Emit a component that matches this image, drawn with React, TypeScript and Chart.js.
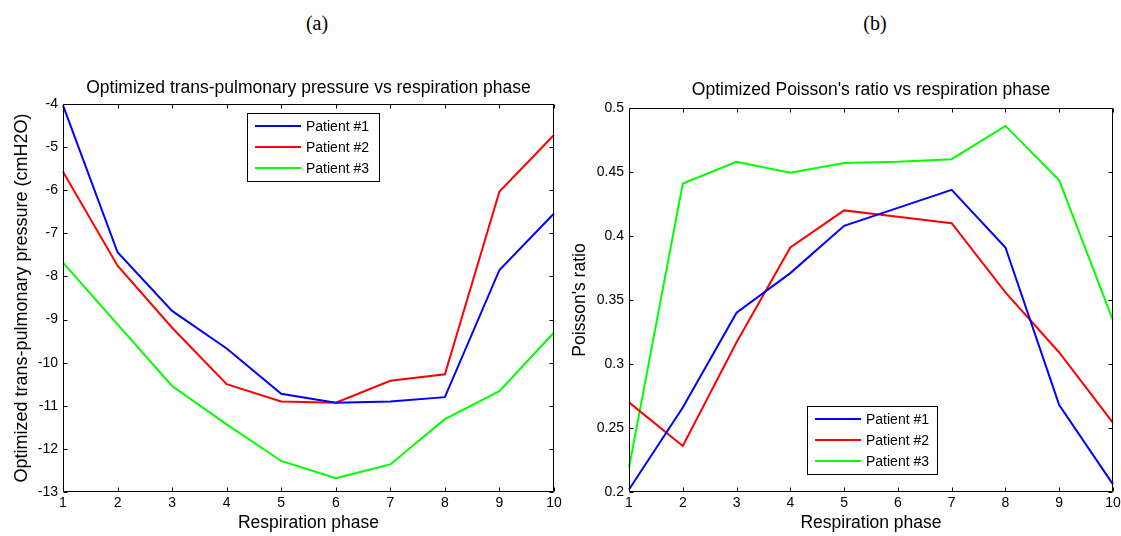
import React, { useEffect, useRef } from "react";
import { Chart, registerables } from "chart.js";

Chart.register(...registerables);

// ---------- data ----------
const phases = ["1", "2", "3", "4", "5", "6", "7", "8", "9", "10"];
const patientLabels = ["Patient #1", "Patient #2", "Patient #3"];

const pressureP1 = [-4.03, -7.44, -8.8, -9.67, -10.72, -10.93, -10.9, -10.8, -7.85, -6.54];
const pressureP2 = [-5.57, -7.75, -9.19, -10.5, -10.9, -10.93, -10.42, -10.27, -6.03, -4.72];
const pressureP3 = [-7.68, -9.11, -10.54, -11.43, -12.28, -12.68, -12.36, -11.31, -10.66, -9.3];

const poissonP1 = [0.202, 0.266, 0.34, 0.371, 0.408, 0.422, 0.436, 0.391, 0.268, 0.206];
const poissonP2 = [0.27, 0.236, 0.317, 0.391, 0.42, 0.415, 0.41, 0.356, 0.309, 0.254];
const poissonP3 = [0.219, 0.441, 0.458, 0.4495, 0.457, 0.458, 0.46, 0.486, 0.4435, 0.334];

const pressureTicks = [-13, -12, -11, -10, -9, -8, -7, -6, -5, -4];
const pressureTickLabels = ["-13", "-12", "-11", "-10", "-9", "-8", "-7", "-6", "-5", "-4"];
const poissonTicks = [0.2, 0.25, 0.3, 0.35, 0.4, 0.45, 0.5];
const poissonTickLabels = ["0.2", "0.25", "0.3", "0.35", "0.4", "0.45", "0.5"];

const seriesColors = ["#0000ff", "#ff0000", "#00ff00"];

const FONT = "'Liberation Sans', Arial, Helvetica, sans-serif";

// ---------- plugins ----------
const matlabBoxPlugin = {
  id: "matlabBox",
  afterDatasetsDraw(chart: any) {
    const { ctx, chartArea: a, scales } = chart;
    const L = Math.round(a.left) + 0.5;
    const R = Math.round(a.right) - 0.5;
    const T = Math.round(a.top) + 0.5;
    const B = Math.round(a.bottom) - 0.5;
    const tl = 4;
    ctx.save();
    ctx.strokeStyle = "#000";
    ctx.lineWidth = 1;
    ctx.beginPath();
    ctx.rect(L, T, R - L, B - T);
    const xs = scales.x;
    xs.ticks.forEach((_t: any, i: number) => {
      const px = Math.round(xs.getPixelForTick(i)) + 0.5;
      ctx.moveTo(px, B);
      ctx.lineTo(px, B - tl);
      ctx.moveTo(px, T);
      ctx.lineTo(px, T + tl);
    });
    const ys = scales.y;
    ys.ticks.forEach((_t: any, i: number) => {
      const py = Math.round(ys.getPixelForTick(i)) + 0.5;
      ctx.moveTo(L, py);
      ctx.lineTo(L + tl, py);
      ctx.moveTo(R, py);
      ctx.lineTo(R - tl, py);
    });
    ctx.stroke();
    ctx.restore();
  },
};

const matlabLegendPlugin = {
  id: "matlabLegend",
  afterDraw(chart: any, _args: any, opts: any) {
    if (!opts || opts.x === undefined) return;
    const { ctx } = chart;
    const { x, y, w, h } = opts;
    ctx.save();
    ctx.fillStyle = "#fff";
    ctx.fillRect(x, y, w, h);
    ctx.strokeStyle = "#000";
    ctx.lineWidth = 1;
    ctx.strokeRect(x + 0.5, y + 0.5, w, h);
    ctx.font = `14px ${FONT}`;
    ctx.textBaseline = "middle";
    ctx.textAlign = "left";
    chart.data.datasets.forEach((ds: any, i: number) => {
      const ry = y + 13 + i * 21;
      ctx.strokeStyle = ds.borderColor;
      ctx.lineWidth = 2;
      ctx.beginPath();
      ctx.moveTo(x + 8, ry);
      ctx.lineTo(x + 54, ry);
      ctx.stroke();
      ctx.fillStyle = "#000";
      ctx.fillText(ds.label, x + 59, ry + 1);
    });
    ctx.restore();
  },
};

// ---------- chart builder ----------
function makeConfig(p: {
  title: string;
  yTitle: string;
  yTitleSize: number;
  series: number[][];
  yTicks: number[];
  yTickLabels: string[];
  yAxisWidth: number;
  padRight: number;
  titlePadTop: number;
  titlePadBottom: number;
  yTitlePad: number;
  legend: { x: number; y: number; w: number; h: number };
}) {
  const datasets = p.series.map((s, i) => ({
    label: patientLabels[i],
    data: s,
    borderColor: seriesColors[i],
    backgroundColor: seriesColors[i],
    borderWidth: 2,
    pointRadius: 0,
    pointHoverRadius: 0,
    tension: 0,
    fill: false,
  }));
  const yMin = p.yTicks[0];
  const yMax = p.yTicks[p.yTicks.length - 1];
  return {
    type: "line",
    data: { labels: phases, datasets },
    plugins: [matlabBoxPlugin, matlabLegendPlugin],
    options: {
      animation: false,
      responsive: false,
      maintainAspectRatio: false,
      events: [],
      layout: { padding: { left: 0, right: p.padRight, top: 0, bottom: 0 } },
      plugins: {
        legend: { display: false },
        tooltip: { enabled: false },
        title: {
          display: true,
          text: p.title,
          fullSize: false,
          color: "#000",
          font: { size: 17.5, weight: "normal", family: FONT },
          padding: { top: p.titlePadTop, bottom: p.titlePadBottom },
        },
        matlabLegend: p.legend,
      },
      scales: {
        x: {
          type: "category",
          offset: false,
          grid: { display: false, drawTicks: false },
          border: { display: false },
          ticks: {
            color: "#000",
            font: { size: 14, family: FONT },
            padding: 3,
            maxRotation: 0,
            minRotation: 0,
            autoSkip: false,
          },
          title: {
            display: true,
            text: "Respiration phase",
            color: "#000",
            font: { size: 17.5, family: FONT },
            padding: { top: 0, bottom: 2 },
          },
          afterFit(s: any) {
            s.height = 44;
            s.paddingLeft = 0;
            s.paddingRight = 0;
          },
        },
        y: {
          type: "linear",
          min: yMin,
          max: yMax,
          grid: { display: false, drawTicks: false },
          border: { display: false },
          ticks: {
            color: "#000",
            font: { size: 14, family: FONT },
            padding: 5,
            callback: (_v: any, i: number) => p.yTickLabels[i],
          },
          afterBuildTicks(s: any) {
            s.ticks = p.yTicks.map((v) => ({ value: v }));
          },
          title: {
            display: true,
            text: p.yTitle,
            color: "#000",
            font: { size: p.yTitleSize, family: FONT },
            padding: { top: p.yTitlePad, bottom: 0 },
          },
          afterFit(s: any) {
            s.width = p.yAxisWidth;
            s.paddingTop = 0;
            s.paddingBottom = 0;
          },
        },
      },
    },
  };
}

function ChartPanel({ config, width, height, left }: { config: any; width: number; height: number; left: number }) {
  const ref = useRef<HTMLCanvasElement | null>(null);
  useEffect(() => {
    if (!ref.current) return;
    const chart = new Chart(ref.current, config);
    return () => chart.destroy();
  }, [config]);
  return (
    <canvas
      ref={ref}
      width={width}
      height={height}
      style={{ position: "absolute", left, top: 0, width, height, display: "block" }}
    />
  );
}

const configA = makeConfig({
  title: "Optimized trans-pulmonary pressure vs respiration phase",
  yTitle: "Optimized trans-pulmonary pressure (cmH2O)",
  yTitleSize: 18,
  series: [pressureP1, pressureP2, pressureP3],
  yTicks: pressureTicks,
  yTickLabels: pressureTickLabels,
  yAxisWidth: 63,
  padRight: 14,
  titlePadTop: 78,
  titlePadBottom: 5,
  yTitlePad: 11,
  legend: { x: 247, y: 113, w: 132, h: 68 },
});

const configB = makeConfig({
  title: "Optimized Poisson's ratio vs respiration phase",
  yTitle: "Poisson's ratio",
  yTitleSize: 17.5,
  series: [poissonP1, poissonP2, poissonP3],
  yTicks: poissonTicks,
  yTickLabels: poissonTickLabels,
  yAxisWidth: 69,
  padRight: 8,
  titlePadTop: 79.5,
  titlePadBottom: 7.5,
  yTitlePad: 10,
  legend: { x: 247, y: 406, w: 130, h: 68 },
});

const panelLabel: React.CSSProperties = {
  position: "absolute",
  top: 12,
  height: 22,
  lineHeight: "22px",
  fontFamily: "'Liberation Serif', 'Times New Roman', serif",
  fontSize: 20,
  color: "#000",
  transform: "translateX(-50%)",
  whiteSpace: "nowrap",
};

export default function App() {
  return (
    <div
      style={{
        position: "fixed",
        left: 0,
        top: 0,
        width: 1121,
        height: 536,
        background: "#fff",
        overflow: "hidden",
      }}
    >
      <div style={{ ...panelLabel, left: 317 }}>(a)</div>
      <div style={{ ...panelLabel, left: 875 }}>(b)</div>
      <ChartPanel config={configB} width={561} height={536} left={560} />
      <ChartPanel config={configA} width={568} height={536} left={0} />
    </div>
  );
}
